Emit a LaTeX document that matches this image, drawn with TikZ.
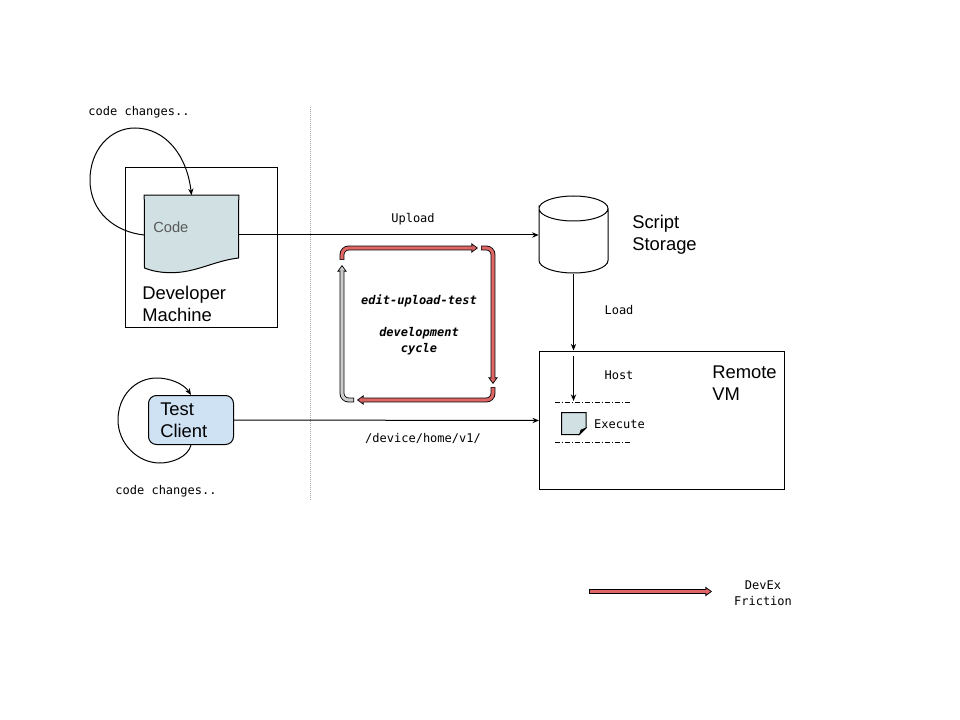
\documentclass[tikz,border=0pt]{standalone}
\usepackage{fontspec}
\setmainfont{Liberation Sans}
\setmonofont{DejaVu Sans Mono}
\usetikzlibrary{arrows.meta,positioning}
\definecolor{doc}{HTML}{D0E0E3}
\definecolor{cli}{HTML}{CFE2F3}
\definecolor{fric}{HTML}{E06666}
\definecolor{idle}{HTML}{CCCCCC}
\definecolor{codetxt}{HTML}{595959}
\newcommand{\fricline}[2]{%
  \draw[fout] #2;
  \draw[fin,draw=#1,arrows={-{Triangle[length=3.2pt,width=4.4pt,fill=#1]}}] #2;}
\tikzset{
  ar/.style={-{Stealth[length=5pt,width=4pt]},line width=0.75pt},
  box/.style={draw,line width=0.75pt,inner sep=0pt},
  lab/.style={font=\fontsize{13.8pt}{16.5pt}\selectfont,align=left,inner sep=0pt},
  mono/.style={font=\ttfamily\fontsize{9pt}{12pt}\selectfont,align=center,inner sep=0pt},
  monoit/.style={mono,font=\ttfamily\bfseries\itshape\fontsize{9pt}{12pt}\selectfont},
  sep/.style={line width=0.75pt,dash pattern=on 3.75pt off 1.5pt on 0.75pt off 1.5pt},
  fout/.style={line width=3.6pt,rounded corners=5pt,-{Triangle[length=5pt,width=7pt]}},
  fin/.style={line width=2.3pt,rounded corners=5pt,shorten >=1.1pt,shorten <=0.5pt},
}
\begin{document}
\begin{tikzpicture}[x=0.75pt,y=-0.75pt]
\useasboundingbox (0,0) rectangle (960,720);
% left side
\draw[gray!70,line width=0.5pt,densely dotted] (310,107) -- (310,500);
\node[box,minimum width=114pt,minimum height=120pt] (dev) at (201,247.5) {};
\node[minimum width=70.5pt,minimum height=59.25pt,inner sep=0pt] (code) at (191.5,235) {};
\draw[line width=0.75pt,fill=doc] (code.north west) -- (code.north east) -- (238.5,258)
  .. controls (213,261) and (196,273) .. (170,272.7) .. controls (160,272.5) and (152,271) .. (144.5,268) -- cycle;
\node[anchor=west,text=codetxt,font=\fontsize{11pt}{12pt}\selectfont,inner sep=0pt] (codelab) at (153,227) {Code};
\node[lab,anchor=north west] (devlab) at (142,286) {Developer\\Machine};
\node[box,fill=cli,rounded corners=6pt,minimum width=63.75pt,minimum height=36.75pt] (client) at (191,420) {};
\node[lab,anchor=north west] (clientlab) at (160,403) {Test\\Client};
\node[mono] (chg1) at (139,112) {code changes..};
\node[mono] (chg2) at (166,491) {code changes..};
% right side
\node[minimum width=51.75pt,minimum height=57.75pt,inner sep=0pt] (storage) at (573.5,235) {};
\draw[line width=0.75pt,fill=white] (539,208.5) arc[start angle=180,end angle=360,x radius=34.5,y radius=12.5]
  arc[start angle=0,end angle=180,x radius=34.5,y radius=12.5] -- (539,260.5)
  arc[start angle=180,end angle=0,x radius=34.5,y radius=12.5] -- (608,208.5);
\node[lab,anchor=north west] (storelab) at (632,215) {Script\\Storage};
\node[box,minimum width=184pt,minimum height=103.5pt] (vm) at (662.25,420.5) {};
\node[lab,anchor=north west] (vmlab) at (712,366) {Remote\\VM};
\coordinate (loadend) at (573.5,350.5);
\coordinate (hostin) at (573.5,356);
\coordinate (hostout) at (573.5,401);
\coordinate (s1a) at (555,402);
\coordinate (s1b) at (630,402);
\coordinate (s2a) at (555,442);
\coordinate (s2b) at (630,442);
\draw[sep] (s1a) -- (s1b);
\draw[sep] (s2a) -- (s2b);
\draw[line width=0.75pt,fill=doc] (561.5,412.5) -- (586,412.5) -- (586,428) -- (579.5,434.5) -- (561.5,434.5) -- cycle;
\draw[line width=0.5pt,fill=black] (586,428) -- (581,430) -- (579.5,434.5) -- cycle;
\node[mono] (exec) at (619.5,424) {Execute};
\node[mono] (host) at (619,375) {Host};
% connectors
\draw[ar] (code.east) -- (storage.west);
\draw[ar] (client.east) -- (vm.west);
\draw[ar] (storage.south) -- (loadend);
\draw[ar] (hostin) -- (hostout);
\draw[ar] (code.west) .. controls (115,232) and (90,212) .. (90,180) .. controls (90,150) and (110,128) .. (135,128) .. controls (165,128) and (187,155) .. (code.north);
\draw[ar] (client.south) .. controls (188,457) and (172,463) .. (160,463) .. controls (137,463) and (118,443) .. (118,420) .. controls (118,396) and (135,378) .. (157,378) .. controls (170,378) and (184,384) .. (client.north);
\node[mono] (upl) at (413,219) {Upload};
\node[mono] (load) at (619,310) {Load};
\node[mono] (route) at (423,438) {/device/home/v1/};
% cycle
\coordinate (ctl) at (342,248);
\coordinate (ctr) at (493,248);
\coordinate (cbr) at (493,400);
\coordinate (cbl) at (342,400);
\fricline{fric}{(342,260) -- (ctl) -- (478,248)}
\fricline{fric}{(481,248) -- (ctr) -- (493,384)}
\fricline{fric}{(493,387) -- (cbr) -- (357,400)}
\fricline{idle}{(354,400) -- (cbl) -- (342,265)}
\node[monoit] (cyc1) at (419,301) {edit-upload-test};
\node[monoit,below=30pt of cyc1.center,anchor=center] (cyc2) {development\\cycle};
% legend
\coordinate (lega) at (589,591.5);
\coordinate (legb) at (712,591.5);
\fricline{fric}{(lega) -- (legb)}
\node[mono] (legt) at (763,593) {DevEx\\Friction};
\end{tikzpicture}
\end{document}
